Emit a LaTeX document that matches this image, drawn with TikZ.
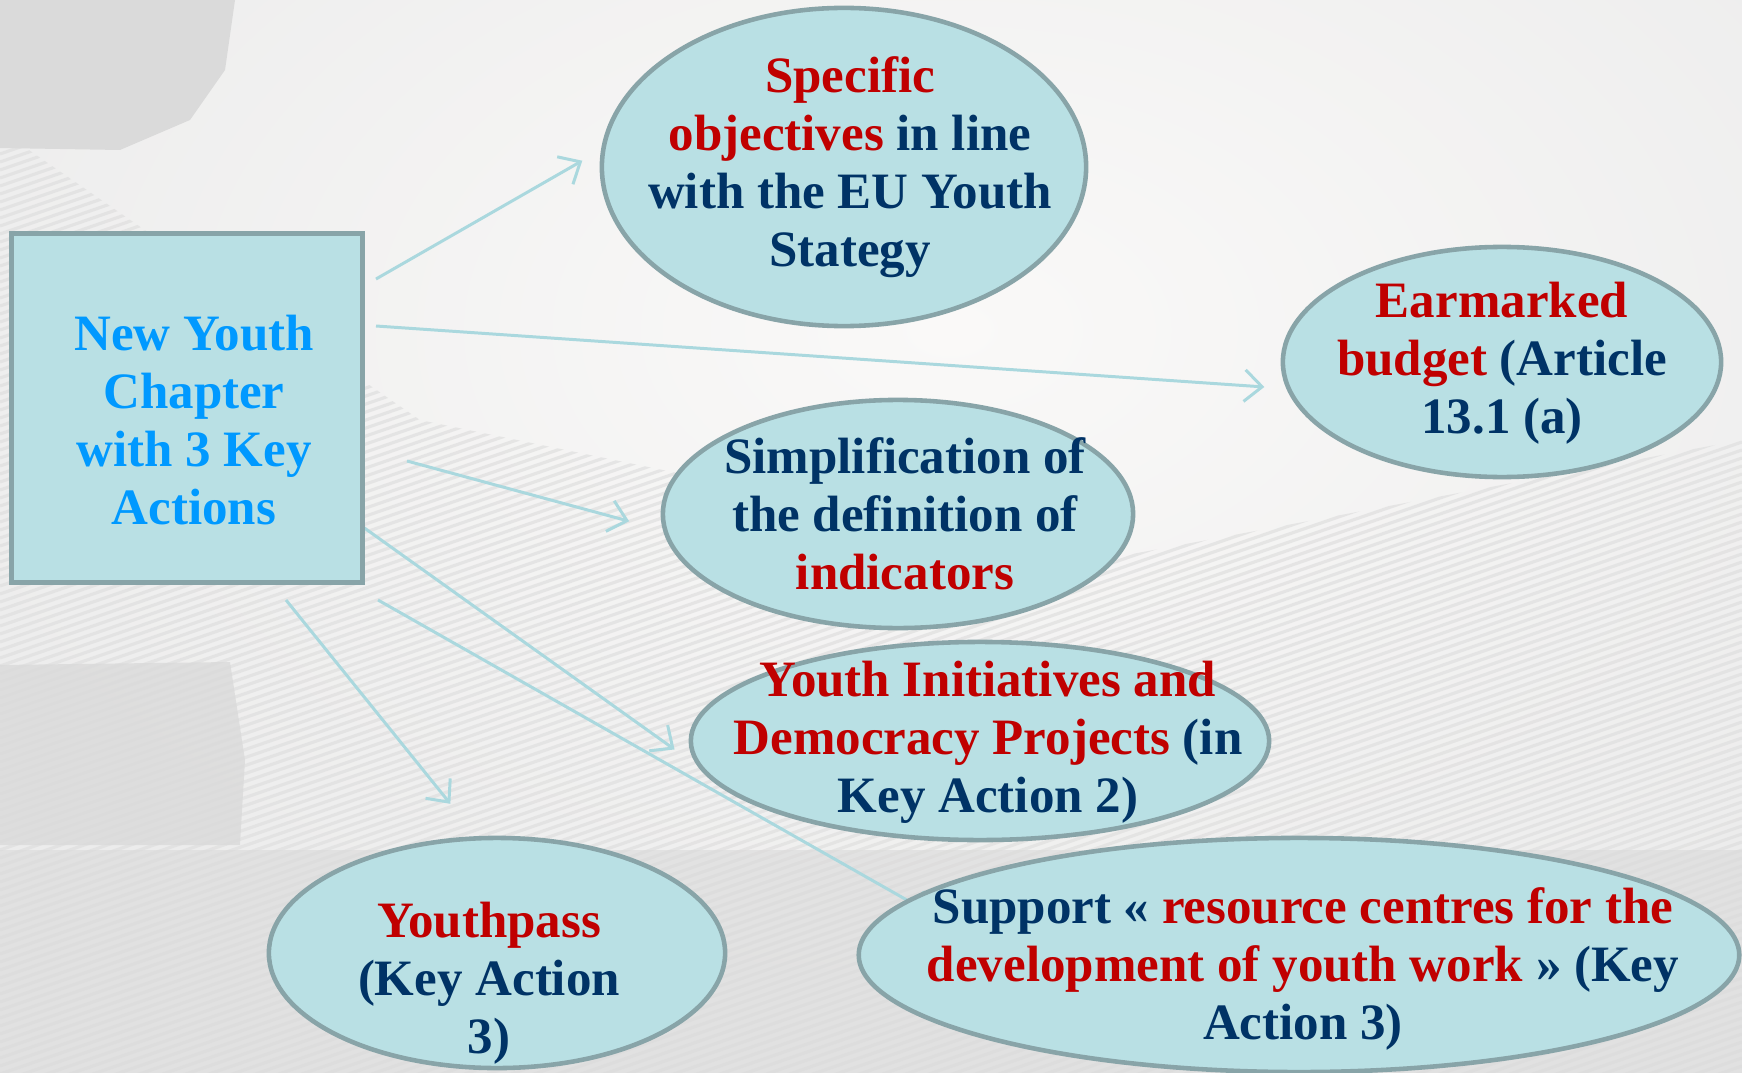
\documentclass[tikz,border=0pt]{standalone}
\usepackage{fontspec}
\setmainfont{Liberation Serif}
\usetikzlibrary{arrows.meta,shapes.geometric,backgrounds}

\definecolor{bubblefill}{RGB}{185,224,228}
\definecolor{bubbleline}{RGB}{136,164,168}
\definecolor{navytext}{RGB}{0,51,102}
\definecolor{redtext}{RGB}{192,0,0}
\definecolor{skytext}{RGB}{0,153,255}
\definecolor{linkcol}{RGB}{170,216,222}
\definecolor{bggray}{RGB}{218,218,218}
\definecolor{bgmid}{RGB}{236,236,236}
\definecolor{bglight}{RGB}{250,249,248}

\newcommand{\hl}[1]{\textcolor{redtext}{#1}}

\tikzset{
  bubble/.style={ellipse, draw=bubbleline, line width=1.3pt, fill=bubblefill, inner sep=0pt},
  chapter/.style={rectangle, draw=bubbleline, line width=1.4pt, fill=bubblefill,
    minimum width=3.5cm, minimum height=3.48cm, inner sep=0pt},
  bubbletext/.style={inner sep=0pt, align=center, text=navytext,
    font=\bfseries\fontsize{14.5}{16.5}\selectfont},
  link/.style={draw=linkcol, line width=0.85pt, -{Straight Barb[length=5pt,width=9pt]}},
  stripe/.style={draw=gray!25, line width=0.9pt, opacity=0.7}
}

\begin{document}
\begin{tikzpicture}[x=0.01cm, y=-0.01cm]
\useasboundingbox (0,0) rectangle (1742,1073);

% boxes
\node[chapter] (chap) at (187,408) {};
\node[bubble, minimum width=4.84cm, minimum height=3.18cm] (spec) at (844,167) {};
\node[bubble, minimum width=4.38cm, minimum height=2.30cm] (budget) at (1502,362) {};
\node[bubble, minimum width=4.70cm, minimum height=2.28cm] (simpl) at (898,514) {};
\node[bubble, minimum width=5.78cm, minimum height=1.98cm] (initv) at (980,741) {};
\node[bubble, minimum width=4.56cm, minimum height=2.30cm] (ypass) at (497,953) {};
\node[bubble, minimum width=8.80cm, minimum height=2.34cm] (support) at (1299,955) {};

% texts
\node[bubbletext, text=skytext] (chaptxt) at (194,420) {New Youth\\ Chapter\\ with 3 Key\\ Actions};
\node[bubbletext] (spectxt) at (850,167) {\hl{Specific}\\ \hl{objectives} in line\\ with the EU Youth\\ Stategy};
\node[bubbletext] (budgettxt) at (1502,363) {\hl{Earmarked}\\ \hl{budget} (Article\\ 13.1 (a)};
\node[bubbletext] (simpltxt) at (905,514) {Simplification of\\ the definition of\\ \hl{indicators}};
\node[bubbletext] (initvtxt) at (988,742) {\hl{Youth Initiatives and}\\ \hl{Democracy Projects} (in\\ Key Action 2)};
\node[bubbletext] (ypasstxt) at (489,983) {\hl{Youthpass}\\ (Key Action\\ 3)};
\node[bubbletext] (supporttxt) at (1303,969) {Support « \hl{resource centres for the}\\ \hl{development of youth work} » (Key\\ Action 3)};

% arrow tails
\coordinate (s1) at (376,279);
\coordinate (s2) at (376,326);
\coordinate (s3) at (407,461);
\coordinate (s4) at (363,527);
\coordinate (s5) at (378,600);
\coordinate (s6) at (286,600);

\begin{scope}[on background layer]
% backdrop
\fill[bgmid] (0,0) rectangle (1742,1073);
\shade[inner color=bglight, outer color=bgmid] (950,330) ellipse (1150 and 720);
\begin{scope}
\clip (0,130) -- (420,420) -- (1100,560) -- (1742,440) -- (1742,1073) -- (0,1073) -- cycle;
\foreach \c in {130,138,...,1780}
  \draw[stripe] (0,\c) -- (1742,{\c-600});
\end{scope}
\fill[bggray] (0,0) -- (235,0) -- (225,70) -- (190,120) -- (120,150) -- (0,148) -- cycle;
\fill[bggray, opacity=0.8] (0,665) -- (230,662) -- (245,760) -- (240,845) -- (0,845) -- cycle;
\fill[bggray, opacity=0.6] (0,850) rectangle (1742,1073);

% arrows
\draw[link, shorten >=0.215cm] (s1) -- (spec.176);
\draw[link, shorten >=0.22cm] (s2) -- (budget.187);
\draw[link, shorten >=0.35cm] (s3) -- (simpl.184);
\draw[link, shorten >=0.28cm] (s4) -- (initv.185);
\draw[link, shorten >=-0.3cm] (s5) -- (support.172);
\draw[link, shorten >=0.415cm] (s6) -- (ypass.100);
\end{scope}

\end{tikzpicture}
\end{document}
